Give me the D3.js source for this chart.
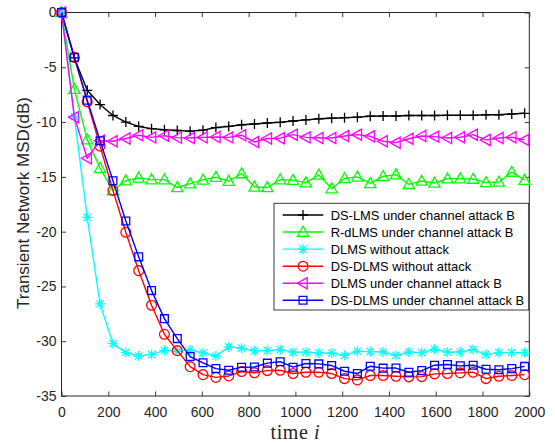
<!DOCTYPE html>
<html><head><meta charset="utf-8">
<script src="https://cdn.jsdelivr.net/npm/d3@7"></script>
<style>body{margin:0;background:#fff} svg{display:block}</style>
</head><body>
<script>
// ---- data ----
const iterations = [0,55,110,165,220,275,330,385,440,495,550,605,660,715,770,825,880,935,990,1045,1100,1155,1210,1265,1320,1375,1430,1485,1540,1595,1650,1705,1760,1815,1870,1925,1980];
const dsLmsAttackB = [0,-4.15,-7.1,-8.4,-9.4,-10.0,-10.4,-10.6,-10.7,-10.77,-10.83,-10.74,-10.5,-10.4,-10.25,-10.17,-10.08,-10.02,-9.9,-9.8,-9.7,-9.65,-9.6,-9.55,-9.47,-9.45,-9.45,-9.4,-9.4,-9.4,-9.38,-9.38,-9.38,-9.33,-9.33,-9.26,-9.2];
const rdLmsAttackB = [0,-7.0,-11.6,-14.2,-16.25,-15.35,-15.1,-15.25,-15.25,-15.97,-15.62,-15.28,-15.02,-15.4,-14.7,-15.92,-15.97,-15.25,-15.3,-15.53,-14.83,-16.07,-15.15,-15.0,-15.6,-14.95,-14.8,-15.68,-15.38,-15.56,-15.16,-15.16,-15.2,-15.5,-15.47,-14.56,-15.3];
const dlmsNoAttack = [0,-9.5,-18.7,-26.6,-30.22,-31.04,-31.35,-31.2,-30.83,-30.92,-30.8,-31.07,-31.35,-30.52,-30.64,-30.88,-30.85,-30.77,-31.0,-31.0,-31.07,-31.07,-31.3,-30.91,-30.95,-30.98,-31.3,-30.98,-31.04,-30.73,-31.0,-30.98,-30.76,-31.22,-31.04,-31.04,-31.04];
const dsDlmsNoAttack = [0,-4.1,-8.15,-12.2,-16.23,-20.06,-23.56,-26.72,-29.37,-30.86,-32.32,-33.05,-33.3,-33.17,-32.77,-32.88,-32.68,-32.65,-32.95,-32.83,-32.83,-32.95,-33.41,-33.53,-33.13,-33.13,-33.2,-33.25,-33.23,-32.98,-32.95,-32.89,-32.83,-33.41,-33.2,-33.13,-33.05];
const dlmsAttackB = [0,-9.55,-13.3,-11.7,-11.75,-11.5,-11.2,-11.4,-11.25,-11.42,-11.45,-11.4,-11.36,-11.4,-11.2,-11.82,-11.5,-11.47,-11.15,-11.4,-11.45,-11.45,-11.27,-11.15,-11.3,-11.75,-11.88,-11.52,-11.27,-11.33,-11.45,-11.39,-11.15,-11.63,-11.45,-11.39,-11.63];
const dsDlmsAttackB = [0,-4.1,-8.0,-11.7,-15.35,-19.03,-22.3,-25.38,-27.94,-29.76,-31.4,-31.97,-32.5,-32.65,-32.37,-32.35,-32.0,-31.87,-32.37,-32.03,-32.07,-32.22,-32.74,-32.95,-32.28,-32.46,-32.45,-32.83,-32.68,-32.19,-32.13,-32.25,-32.19,-32.56,-32.6,-32.5,-32.3];
const seriesNames = ["DS-LMS under channel attack B","R-dLMS under channel attack B","DLMS without attack","DS-DLMS without attack","DLMS under channel attack B","DS-DLMS under channel attack B"];
const xTicks = [0,200,400,600,800,1000,1200,1400,1600,1800,2000];
const yTicks = [0,-5,-10,-15,-20,-25,-30,-35];

// ---- styling ----
const series = [
  {name: seriesNames[0], values: dsLmsAttackB, color: "#000000", marker: "plus"},
  {name: seriesNames[1], values: rdLmsAttackB, color: "#00ff00", marker: "triUp"},
  {name: seriesNames[2], values: dlmsNoAttack, color: "#00ffff", marker: "star"},
  {name: seriesNames[3], values: dsDlmsNoAttack, color: "#ff0000", marker: "circle"},
  {name: seriesNames[4], values: dlmsAttackB, color: "#ff00ff", marker: "triLeft"},
  {name: seriesNames[5], values: dsDlmsAttackB, color: "#0000ff", marker: "square"}
];

const W = 555, H = 443;
const X0 = 61.5, X1 = 529.3, Y0 = 396, Y1 = 12.5;
const axisColor = "#262626";
const sans = "'Liberation Sans', Arial, Helvetica, sans-serif";

const svg = d3.select("body").append("svg").attr("width", W).attr("height", H)
  .style("background", "#fff");

const x = d3.scaleLinear().domain([0, 2000]).range([X0, X1]);
const y = d3.scaleLinear().domain([-35, 0]).range([Y0, Y1]);

function markerPath(type) {
  const s = 5;
  switch (type) {
    case "plus": return `M${-s},0H${s}M0,${-s}V${s}`;
    case "triUp": return `M0,-5.8L5.6,4.2L-5.6,4.2Z`;
    case "triLeft": return `M-5.8,0L4.2,-5.6L4.2,5.6Z`;
    case "square": return `M-3.9,-3.9H3.9V3.9H-3.9Z`;
    case "circle": return d3.arc()({innerRadius: 0, outerRadius: 4.9, startAngle: 0, endAngle: 2*Math.PI});
    case "star": {
      const d = s * 0.72;
      return `M${-s},0H${s}M0,${-s}V${s}M${-d},${-d}L${d},${d}M${-d},${d}L${d},${-d}`;
    }
  }
}

// axes
const gx = svg.append("g").attr("transform", `translate(0,${Y0})`)
  .call(d3.axisBottom(x).tickValues(xTicks).tickSizeInner(-4.5).tickSizeOuter(0).tickPadding(11.4).tickFormat(d3.format("d")));
const gxt = svg.append("g").attr("transform", `translate(0,${Y1})`)
  .call(d3.axisTop(x).tickValues(xTicks).tickSizeInner(-4.5).tickSizeOuter(0).tickFormat(""));
const gy = svg.append("g").attr("transform", `translate(${X0},0)`)
  .call(d3.axisLeft(y).tickValues(yTicks).tickSizeInner(-4.5).tickSizeOuter(0).tickPadding(5).tickFormat(d => d3.format("d")(d).replace("−", "-")));
const gyr = svg.append("g").attr("transform", `translate(${X1},0)`)
  .call(d3.axisRight(y).tickValues(yTicks).tickSizeInner(-4.5).tickSizeOuter(0).tickFormat(""));

[gx, gxt, gy, gyr].forEach(g => {
  g.selectAll(".domain").remove();
  g.selectAll("line").attr("stroke", axisColor).attr("stroke-width", 0.9);
  g.selectAll("text").attr("fill", axisColor).style("font-family", sans).style("font-size", "14px");
});

// box
svg.append("rect").attr("x", X0).attr("y", Y1).attr("width", X1 - X0).attr("height", Y0 - Y1)
  .attr("fill", "none").attr("stroke", axisColor).attr("stroke-width", 1);

// series
const line = d3.line().x((d, i) => x(iterations[i])).y(d => y(d));
const plot = svg.append("g");
series.forEach(s => {
  const g = plot.append("g");
  g.append("path").attr("d", line(s.values)).attr("fill", "none")
    .attr("stroke", s.color).attr("stroke-width", 1.4).attr("stroke-linejoin", "round");
  g.selectAll("path.m").data(s.values).enter().append("path").attr("class", "m")
    .attr("transform", (d, i) => `translate(${x(iterations[i])},${y(d)})`)
    .attr("d", markerPath(s.marker)).attr("fill", "none")
    .attr("stroke", s.color).attr("stroke-width", 1.3);
});

// labels
svg.append("text").attr("transform", `translate(28.5,203) rotate(-90)`)
  .attr("text-anchor", "middle").style("font-family", sans).style("font-size", "17px")
  .attr("fill", axisColor).text("Transient Network MSD(dB)");
const xl = svg.append("text").attr("x", (X0 + X1) / 2).attr("y", 438.5).attr("text-anchor", "middle")
  .style("font-family", "'Liberation Serif', 'Times New Roman', serif").style("font-size", "20px")
  .style("letter-spacing", "0.6px").attr("fill", axisColor);
xl.append("tspan").text("time ");
xl.append("tspan").style("font-style", "italic").text("i");

// legend
const LX = 274, LY = 203.3, LW = 254.7, LH = 106.7;
const leg = svg.append("g");
leg.append("rect").attr("x", LX).attr("y", LY).attr("width", LW).attr("height", LH)
  .attr("fill", "#fff").attr("stroke", axisColor).attr("stroke-width", 0.9);
const rowY = d3.scaleLinear().domain([0, 5]).range([215, 300.3]);
series.forEach((s, i) => {
  const yy = rowY(i);
  leg.append("line").attr("x1", 282.7).attr("x2", 323.3).attr("y1", yy).attr("y2", yy)
    .attr("stroke", s.color).attr("stroke-width", 1.4);
  leg.append("path").attr("transform", `translate(303,${yy})`).attr("d", markerPath(s.marker))
    .attr("fill", "none").attr("stroke", s.color).attr("stroke-width", 1.3);
  leg.append("text").attr("x", 330.7).attr("y", yy).attr("dy", "0.36em")
    .style("font-family", sans).style("font-size", "12.9px").attr("fill", "#000").text(s.name);
});
</script>
</body></html>
